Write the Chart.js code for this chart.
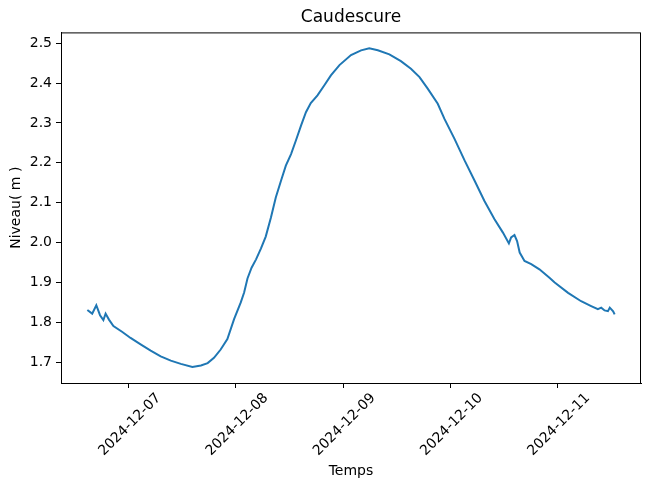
<!DOCTYPE html>
<html>
<head>
<meta charset="utf-8">
<script src="https://cdn.jsdelivr.net/npm/chart.js@4"></script>
<style>
  body { margin: 0; background: #fff; }
</style>
</head>
<body>
<canvas id="chart" width="649" height="489"></canvas>
<script>
const times = [
  "2024-12-06T14:45","2024-12-06T15:50","2024-12-06T16:45","2024-12-06T17:35","2024-12-06T18:20","2024-12-06T18:50","2024-12-06T19:35","2024-12-06T20:35","2024-12-06T22:35",
  "2024-12-07T00:25","2024-12-07T02:40","2024-12-07T04:55","2024-12-07T07:10","2024-12-07T09:25","2024-12-07T11:40","2024-12-07T14:15","2024-12-07T16:10","2024-12-07T17:40","2024-12-07T19:05","2024-12-07T20:35","2024-12-07T22:05","2024-12-07T23:35",
  "2024-12-08T01:05","2024-12-08T01:50","2024-12-08T02:35","2024-12-08T03:30","2024-12-08T04:30","2024-12-08T05:35","2024-12-08T06:40","2024-12-08T07:50","2024-12-08T08:55","2024-12-08T10:05","2024-12-08T11:10","2024-12-08T12:20","2024-12-08T13:25","2024-12-08T14:35","2024-12-08T15:40","2024-12-08T16:45","2024-12-08T18:15","2024-12-08T19:45","2024-12-08T21:15","2024-12-08T23:10",
  "2024-12-09T01:45","2024-12-09T04:00","2024-12-09T05:50","2024-12-09T07:45","2024-12-09T10:20","2024-12-09T12:55","2024-12-09T15:10","2024-12-09T17:05","2024-12-09T18:55","2024-12-09T21:10","2024-12-09T22:40",
  "2024-12-10T00:55","2024-12-10T03:10","2024-12-10T05:25","2024-12-10T07:35","2024-12-10T09:50","2024-12-10T11:45","2024-12-10T13:05","2024-12-10T13:35","2024-12-10T14:20","2024-12-10T14:55","2024-12-10T15:30","2024-12-10T16:35","2024-12-10T18:05","2024-12-10T19:55","2024-12-10T22:10","2024-12-10T23:20",
  "2024-12-11T02:20","2024-12-11T05:15","2024-12-11T07:30","2024-12-11T09:00","2024-12-11T09:45","2024-12-11T10:30","2024-12-11T11:15","2024-12-11T11:40","2024-12-11T12:25","2024-12-11T12:45"
];
const niveau = [
  1.831,1.822,1.843,1.818,1.806,1.822,1.807,1.791,1.776,
  1.761,1.745,1.729,1.715,1.704,1.696,1.688,1.692,1.698,1.711,1.732,1.758,1.808,
  1.850,1.875,1.910,1.937,1.958,1.985,2.015,2.063,2.113,2.155,2.193,2.222,2.256,2.294,2.327,2.350,2.369,2.394,2.419,2.445,
  2.470,2.482,2.487,2.482,2.472,2.455,2.436,2.415,2.386,2.348,2.310,
  2.260,2.206,2.155,2.105,2.059,2.025,1.998,2.013,2.019,2.004,1.975,1.954,1.946,1.933,1.912,1.900,
  1.874,1.853,1.841,1.833,1.837,1.830,1.828,1.837,1.828,1.820
];
const xTickLabels = ["2024-12-07","2024-12-08","2024-12-09","2024-12-10","2024-12-11"];
const yTicks = [1.7,1.8,1.9,2.0,2.1,2.2,2.3,2.4,2.5];

const toMs = s => Date.parse(s + (s.length > 10 ? ":00Z" : "T00:00:00Z"));
const points = times.map((t, i) => ({ x: toMs(t), y: niveau[i] }));

const xs = points.map(p => p.x), ys = points.map(p => p.y);
const xSpan = Math.max(...xs) - Math.min(...xs);
const ySpan = Math.max(...ys) - Math.min(...ys);

Chart.defaults.font.family = "'DejaVu Sans', sans-serif";
Chart.defaults.color = "#000";

new Chart(document.getElementById("chart"), {
  type: "line",
  data: {
    datasets: [{
      data: points,
      borderColor: "#1f77b4",
      borderWidth: 2,
      pointRadius: 0,
      tension: 0,
      fill: false
    }]
  },
  options: {
    responsive: false,
    animation: false,
    layout: { padding: { left: 0, right: 8, top: 0, bottom: 0 } },
    plugins: {
      legend: { display: false },
      tooltip: { enabled: false },
      title: {
        display: true,
        fullSize: false,
        text: "Caudescure",
        font: { size: 17, weight: "normal" },
        color: "#000",
        padding: { top: 7, bottom: 5 }
      }
    },
    scales: {
      x: {
        type: "linear",
        min: Math.min(...xs) - 0.05 * xSpan,
        max: Math.max(...xs) + 0.05 * xSpan,
        afterBuildTicks: ax => { ax.ticks = xTickLabels.map(l => ({ value: toMs(l) })); },
        afterFit: ax => { ax.height = 106; },
        grid: { drawOnChartArea: false, drawTicks: true, tickLength: 5, tickColor: "#000" },
        border: { display: true, color: "#000", width: 1 },
        ticks: {
          minRotation: 45,
          maxRotation: 45,
          labelOffset: 30,
          padding: 2,
          font: { size: 14 },
          callback: v => new Date(v).toISOString().slice(0, 10)
        },
        title: { display: true, text: "Temps", font: { size: 14 }, padding: { top: 0, bottom: 9 } }
      },
      y: {
        min: Math.min(...ys) - 0.05 * ySpan,
        max: Math.max(...ys) + 0.05 * ySpan,
        afterBuildTicks: ax => { ax.ticks = yTicks.map(v => ({ value: v })); },
        afterFit: ax => { ax.width = 61; },
        grid: { drawOnChartArea: false, drawTicks: true, tickLength: 5, tickColor: "#000" },
        border: { display: true, color: "#000", width: 1 },
        ticks: {
          padding: 4,
          font: { size: 14 },
          callback: v => v.toFixed(1)
        },
        title: { display: true, text: "Niveau( m )", font: { size: 14 }, padding: { top: 8, bottom: 0 } }
      }
    }
  },
  plugins: [{
    id: "frame",
    afterDraw(chart) {
      const { ctx, chartArea: a } = chart;
      ctx.save();
      ctx.strokeStyle = "#000";
      ctx.lineWidth = 1;
      ctx.strokeRect(a.left + 0.5, a.top + 0.5, a.right - a.left - 1, a.bottom - a.top);
      ctx.restore();
    }
  }]
});
</script>
</body>
</html>
